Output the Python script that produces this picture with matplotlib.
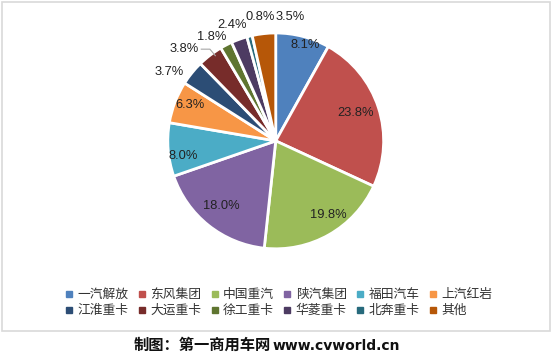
import matplotlib.pyplot as plt
from matplotlib.lines import Line2D
from matplotlib.patches import Rectangle

plt.rcParams['font.family'] = ['Noto Sans CJK SC', 'DejaVu Sans']

# Market share by brand (%)
brands = ["一汽解放", "东风集团", "中国重汽", "陕汽集团", "福田汽车", "上汽红岩",
          "江淮重卡", "大运重卡", "徐工重卡", "华菱重卡", "北奔重卡", "其他"]
shares = [8.1, 23.8, 19.8, 18.0, 8.0, 6.3, 3.7, 3.8, 1.8, 2.4, 0.8, 3.5]
colors = ["#4F81BD", "#C0504D", "#9BBB59", "#8064A2", "#4BACC6", "#F79646",
          "#2C4D75", "#772C2A", "#5F7530", "#4D3B62", "#276A7C", "#B65708"]

# label positions in pie units (radius = 1)
label_xy = [(0.27, 0.89), (0.74, 0.26), (0.49, -0.69), (-0.50, -0.60),
            (-0.86, -0.14), (-0.79, 0.33), (-0.99, 0.64), (-0.85, 0.85),
            (-0.59, 0.96), (-0.40, 1.07), (-0.14, 1.15), (0.13, 1.15)]

fig = plt.figure(figsize=(5.52, 3.54), dpi=100)
fig.patches.append(Rectangle((1.5 / 552, 1 - 331 / 354), 548 / 552, 329.5 / 354,
                             transform=fig.transFigure, fill=False,
                             edgecolor="#d9d9d9", linewidth=1.2))

ax = fig.add_axes([0.304, 0.297, 0.391, 0.610])
ax.pie(shares, colors=colors, startangle=90, counterclock=False,
       wedgeprops=dict(edgecolor="white", linewidth=2))
ax.set_xlim(-1, 1)
ax.set_ylim(-1, 1)
ax.set_aspect("equal")
ax.axis("off")

for v, (x, y) in zip(shares, label_xy):
    ax.text(x, y, f"{v:.1f}%", ha="center", va="center", fontsize=9.3,
            color="#222222", family=["Liberation Sans"])

# leader line for 3.8%
ax.plot([-0.69, -0.61, -0.56], [0.85, 0.85, 0.79], color="#a6a6a6", lw=0.8)

handles = [Line2D([0], [0], marker="s", linestyle="none", markersize=4,
                  markerfacecolor=c, markeredgecolor=c) for c in colors]
# matplotlib fills legend columns first; reorder so rows read left to right
order = [i + 6 * r for i in range(6) for r in range(2)]
fig.legend([handles[i] for i in order], [brands[i] for i in order],
           loc="center", bbox_to_anchor=(0.505, 0.145), ncol=6,
           frameon=False, fontsize=9.2, handlelength=0.6, handletextpad=0.35,
           columnspacing=0.75, labelspacing=0.25, borderpad=0,
           labelcolor="#333333")

fig.text(0.49, 1 - 345 / 354, "制图：第一商用车网", ha="right", va="center",
         fontsize=11, fontweight="bold", color="#111111")
fig.text(0.493, 1 - 346 / 354, "www.cvworld.cn", ha="left", va="center",
         fontsize=10, fontweight="bold", color="#111111", family=["DejaVu Sans"])

fig.savefig("out.png", dpi=100, facecolor="white")
